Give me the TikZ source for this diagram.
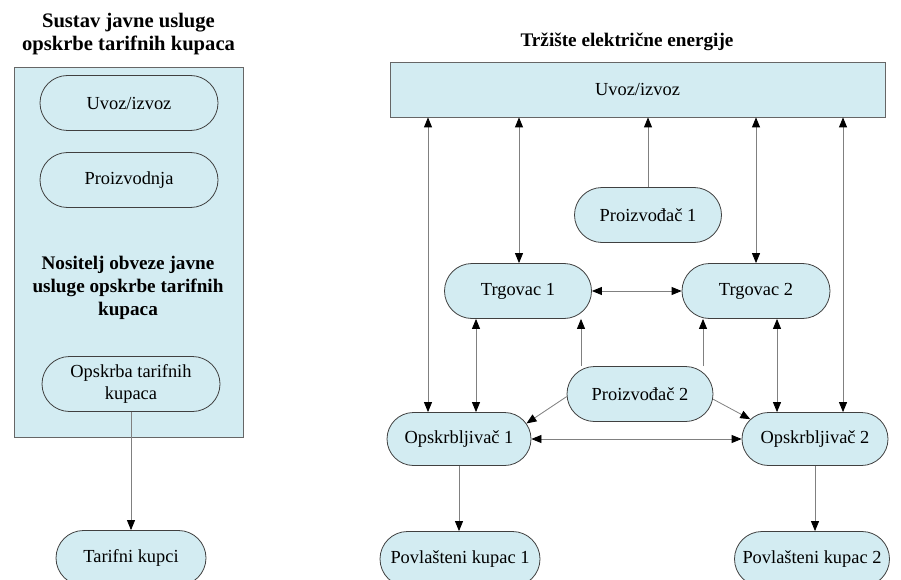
\documentclass[tikz,border=0pt]{standalone}
\usepackage{fontspec}
\setmainfont{Liberation Serif}
\usetikzlibrary{shapes.misc,arrows.meta}
\definecolor{pillblue}{RGB}{211,236,242}
\tikzset{
  pill/.style={rounded rectangle,draw=black!75,fill=pillblue,line width=0.8pt,
    minimum height=55pt,inner sep=2pt,align=center},
  panel/.style={rectangle,draw=black!60,fill=pillblue,line width=0.8pt},
  heading/.style={font=\fontsize{19.2}{23}\selectfont\bfseries,align=center},
  link/.style={draw=black!50,line width=0.8pt}
}
\begin{document}
\begin{tikzpicture}[x=1pt,y=-1pt,font=\fontsize{18.4}{23}\selectfont,
  >={Triangle[length=10pt,width=8pt,color=black]}]
\useasboundingbox (0,0) rectangle (901,580);
\node[heading,font=\fontsize{20.6}{23}\selectfont\bfseries] (ltitle) at (128.5,34) {Sustav javne usluge\\opskrbe tarifnih kupaca};
\node[panel,minimum width=229pt,minimum height=370pt] (lsys) at (128.5,252) {};
\node[pill,minimum width=182pt] (luvoz) at (129,103) {Uvoz/izvoz};
\node[pill,minimum width=182pt] (lproiz) at (129,180) {Proizvodnja};
\node[heading] (nositelj) at (128,288) {Nositelj obveze javne\\usluge opskrbe tarifnih\\kupaca};
\node[pill,minimum width=182pt,font=\fontsize{18.4}{22}\selectfont] (lopskrba) at (131,384) {Opskrba tarifnih\\kupaca};
\node[pill,minimum width=154pt] (tarifni) at (131,558) {Tarifni kupci};
\draw[link,->] (lopskrba.south) -- (tarifni.north);
\node[heading] (rtitle) at (627,42) {Tržište električne energije};
\node[panel,minimum width=495pt,minimum height=55pt] (uvoz) at (637.5,89.5) {Uvoz/izvoz};
\node[pill,minimum width=151pt] (proiz1) at (648,215) {Proizvođač 1};
\node[pill,minimum width=151pt] (trg1) at (518,291) {Trgovac 1};
\node[pill,minimum width=152pt] (trg2) at (756,291) {Trgovac 2};
\node[pill,minimum width=150pt] (proiz2) at (640,394) {Proizvođač 2};
\node[pill,minimum width=148pt,minimum height=53pt] (opskr1) at (459,439) {Opskrbljivač 1};
\node[pill,minimum width=150pt,minimum height=53pt] (opskr2) at (815,439) {Opskrbljivač 2};
\node[pill,minimum width=164pt] (povl1) at (460,559) {Povlašteni kupac 1};
\node[pill,minimum width=159pt] (povl2) at (812,559) {Povlašteni kupac 2};
\foreach \x/\a/\b in {428/uvoz/opskr1,519/uvoz/trg1,756/uvoz/trg2,843/uvoz/opskr2,476/trg1/opskr1,777/trg2/opskr2}
  \draw[link,<->] (\a.south -| \x,0) -- (\b.north -| \x,0);
\foreach \x/\b in {581/trg1,703/trg2}
  \draw[link,->] (proiz2.north -| \x,0) -- (\b.south -| \x,0);
\draw[link,->] (proiz1.north) -- (proiz1.north |- uvoz.south);
\draw[link,<->] (trg1.east) -- (trg2.west);
\draw[link,<->] (opskr1.east) -- (opskr2.west);
\draw[link,->] (proiz2.182) -- (opskr1.13);
\draw[link,->] (proiz2.356) -- (opskr2.163);
\draw[link,->] (opskr1.south) -- (opskr1.south |- povl1.north);
\draw[link,->] (opskr2.south) -- (opskr2.south |- povl2.north);
\end{tikzpicture}
\end{document}
